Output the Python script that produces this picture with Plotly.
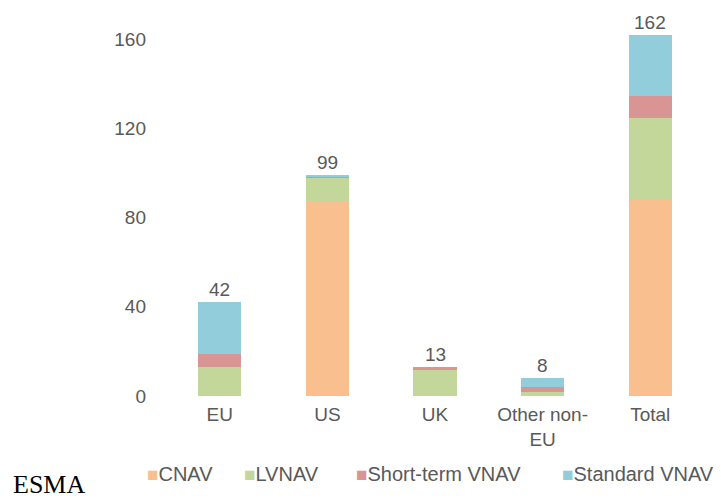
import plotly.graph_objects as go

categories = ["EU", "US", "UK", "Other non-<br>EU", "Total"]
series_names = ["CNAV", "LVNAV", "Short-term VNAV", "Standard VNAV"]
cnav = [0, 87, 0.5, 0.5, 88]
lvnav = [13, 11, 11, 1.5, 36.5]
short_term_vnav = [6, 0.4, 1.5, 2, 9.9]
standard_vnav = [23, 0.6, 0, 4, 27.6]
totals = [42, 99, 13, 8, 162]
y_ticks = [0, 40, 80, 120, 160]

colors = ["#F9BF8F", "#C4D79B", "#D99594", "#92CDDC"]
values = [cnav, lvnav, short_term_vnav, standard_vnav]
grey = "#595959"
font_family = "Liberation Sans, Arial, sans-serif"

fig = go.Figure()
for name, vals, col in zip(series_names, values, colors):
    fig.add_trace(go.Bar(x=categories, y=vals, name=name, marker=dict(color=col, line=dict(width=0)),
                         showlegend=False))

for cat, tot in zip(categories, totals):
    fig.add_annotation(x=cat, y=tot, text=str(tot), showarrow=False, yanchor="bottom",
                       font=dict(size=19, color=grey, family=font_family))

# page body has an 8px margin; figure is placed at (8, 8) in the window
OFF = 8
W, H = 713, 491
ml, mr, mt, mb = 158, 17, 9, 103
pw = W - ml - mr
ph = H - mt - mb

def px_x(x):
    return (x - OFF - ml) / pw

def px_y(y):
    return (H - mb - (y - OFF)) / ph

legend_x = [145, 242, 354, 560]
for name, col, lx in zip(series_names, colors, legend_x):
    fig.add_annotation(xref="paper", yref="paper", x=px_x(lx), y=px_y(474), xanchor="left", yanchor="middle",
                       showarrow=False,
                       text=f'<span style="color:{col};font-size:19px">■</span>{name}',
                       font=dict(size=20, color=grey, family=font_family))

fig.add_annotation(xref="paper", yref="paper", x=px_x(11), y=px_y(484), xanchor="left", yanchor="middle",
                   showarrow=False, text="ESMA",
                   font=dict(size=26, color="black", family="Liberation Serif, Times New Roman, serif"))

fig.update_layout(
    width=W, height=H,
    margin=dict(l=ml, r=mr, t=mt, b=mb),
    barmode="stack", bargap=0.6,
    plot_bgcolor="white", paper_bgcolor="white",
    font=dict(family=font_family, size=19, color=grey),
)
fig.update_yaxes(range=[0, 170], tickvals=y_ticks, showgrid=False, zeroline=False, showline=False,
                 ticks="", ticklabelstandoff=19, tickfont=dict(size=19, color=grey))
fig.update_xaxes(showgrid=False, zeroline=False, showline=False, ticks="", ticklabelstandoff=5,
                 tickfont=dict(size=19, color=grey))

fig.write_html("out.html")
